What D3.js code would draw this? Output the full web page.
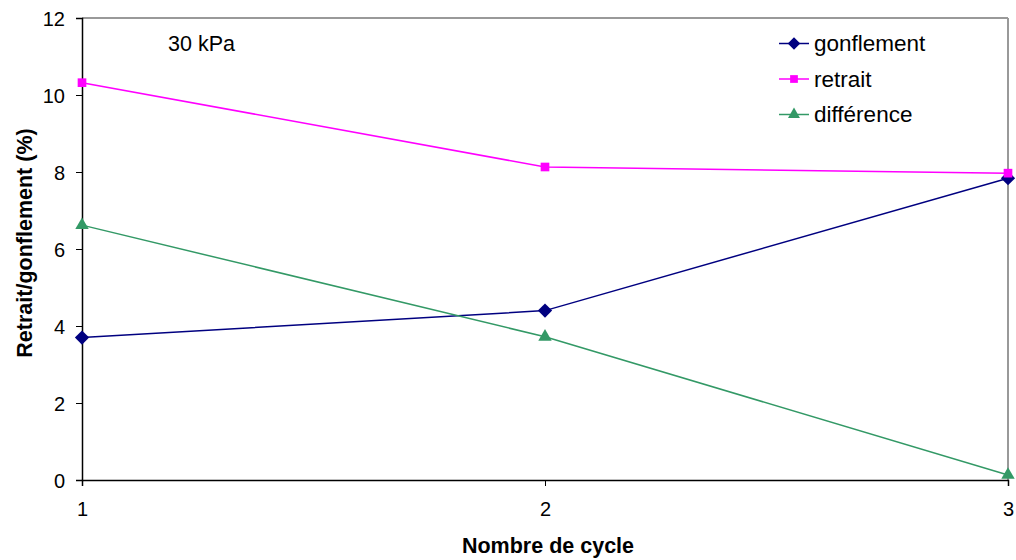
<!DOCTYPE html>
<html><head><meta charset="utf-8">
<script src="https://cdn.jsdelivr.net/npm/d3@7"></script>
<style>
body{margin:0;background:#fff;}
text{font-family:"Liberation Sans",Arial,sans-serif;fill:#000;}
</style></head>
<body><svg id="c" width="1016" height="560"></svg>
<script>
const cycles = [1, 2, 3];
const gonflement = [3.70, 4.40, 7.84];
const retrait = [10.32, 8.13, 7.97];
const difference = [6.62, 3.72, 0.13];
const yTicks = [0, 2, 4, 6, 8, 10, 12];
const seriesNames = ["gonflement", "retrait", "différence"];
const seriesColors = ["#000080", "#FF00FF", "#339966"];
const seriesValues = [gonflement, retrait, difference];
const hasD2 = !!d3.symbolDiamond2;
const seriesSymbols = [hasD2 ? d3.symbolDiamond2 : d3.symbolDiamond, d3.symbolSquare, d3.symbolTriangle];
const markSizes = [hasD2 ? 130 : 60, 75, 78];
const legendSizes = [hasD2 ? 100 : 45, 60, 62];

const svg = d3.select("#c");
const L = 82, R = 1008, T = 18, B = 480;
const x = d3.scaleLinear().domain([1, 3]).range([L, R]);
const y = d3.scaleLinear().domain([0, 12]).range([B, T]);

// top/right border
svg.append("line").attr("x1", L).attr("x2", R).attr("y1", T).attr("y2", T)
  .attr("stroke", "#999").attr("stroke-width", 2);
svg.append("line").attr("x1", R).attr("x2", R).attr("y1", T).attr("y2", B)
  .attr("stroke", "#999").attr("stroke-width", 2);

// y axis
const ya = svg.append("g").attr("transform", `translate(${L},0)`)
  .call(d3.axisLeft(y).tickValues(yTicks).tickSize(6).tickPadding(11).tickFormat(d3.format("d")));
ya.attr("font-size", 20).attr("font-family", '"Liberation Sans",Arial,sans-serif');
ya.select(".domain").attr("stroke", "#000").attr("stroke-width", 1.5);
ya.selectAll(".tick line").attr("stroke", "#000");
ya.selectAll("text").attr("font-size", 20).attr("dy", "0.36em");

// x axis
const xa = svg.append("g").attr("transform", `translate(0,${B})`)
  .call(d3.axisBottom(x).tickValues(cycles).tickSize(6).tickPadding(16).tickFormat(d3.format("d")));
xa.attr("font-size", 20).attr("font-family", '"Liberation Sans",Arial,sans-serif');
xa.select(".domain").attr("stroke", "#000").attr("stroke-width", 1.5);
xa.selectAll(".tick line").attr("stroke", "#000");
xa.selectAll("text").attr("font-size", 20);

// series
seriesValues.forEach((vals, i) => {
  const pts = cycles.map((c, j) => [c, vals[j]]);
  svg.append("path").datum(pts)
    .attr("fill", "none").attr("stroke", seriesColors[i]).attr("stroke-width", 1.5)
    .attr("d", d3.line().x(d => x(d[0])).y(d => y(d[1])));
  svg.selectAll(null).data(pts).enter().append("path")
    .attr("transform", d => `translate(${x(d[0])},${y(d[1])})`)
    .attr("d", d3.symbol().type(seriesSymbols[i]).size(markSizes[i]))
    .attr("fill", seriesColors[i]);
});

// annotation
svg.append("text").attr("x", 168).attr("y", 51).style("font-size", "21.5px").text("30 kPa");

// legend
const lg = svg.append("g");
seriesNames.forEach((n, i) => {
  const cy = 43.5 + i * 35.5;
  lg.append("line").attr("x1", 779).attr("x2", 809).attr("y1", cy).attr("y2", cy)
    .attr("stroke", seriesColors[i]).attr("stroke-width", 1.5);
  lg.append("path").attr("transform", `translate(794,${cy})`)
    .attr("d", d3.symbol().type(seriesSymbols[i]).size(legendSizes[i]))
    .attr("fill", seriesColors[i]);
  lg.append("text").attr("x", 814).attr("y", cy + 7.5).style("font-size", "22.5px").text(n);
});

// axis titles
svg.append("text").attr("x", 548).attr("y", 553).attr("text-anchor", "middle")
  .style("font-size", "21.5px").style("font-weight", "bold").text("Nombre de cycle");
svg.append("text").attr("transform", "translate(32,243) rotate(-90)").attr("text-anchor", "middle")
  .style("font-size", "21.5px").style("font-weight", "bold").text("Retrait/gonflement (%)");
</script></body></html>
